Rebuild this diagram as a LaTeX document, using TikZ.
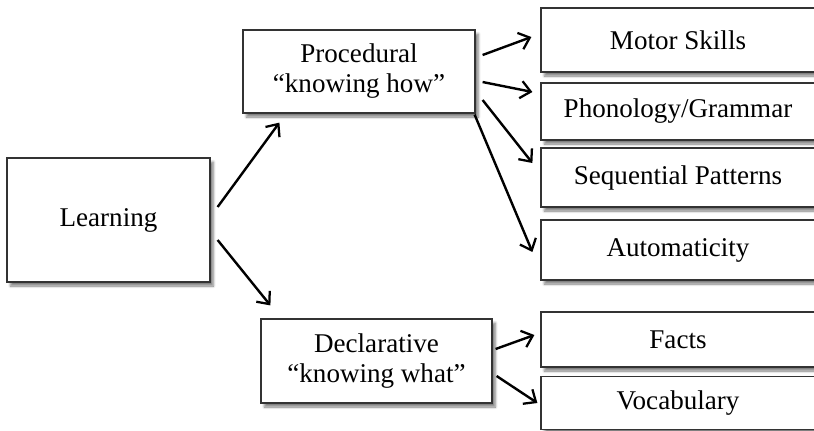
\documentclass[tikz,border=0pt]{standalone}
\usepackage{fontspec}
\setmainfont{Liberation Serif}
\usepackage{tikz}
\usetikzlibrary{calc,arrows.meta,shadows.blur}

\begin{document}
\begin{tikzpicture}[
x=0.75pt,
y=-0.75pt,
box/.style={
  draw=black!80,
  fill=white,
  line width=0.9pt,
  rectangle,
  inner sep=0pt,
  align=center,
  font=\fontsize{20.3}{22.5}\selectfont,
  blur shadow={shadow xshift=2.5pt, shadow yshift=-3pt, shadow blur steps=6, shadow opacity=50}
  },
kind/.style={
  box,
  minimum width=205.5pt
  },
arr/.style={
  line width=1.8pt,
  -{Straight Barb[length=7.5pt,width=13pt,line width=1.7pt]}
  }
]
\useasboundingbox (0,0) rectangle (814,430);

\node[box, minimum width=152.25pt, minimum height=93pt] (learn) at (108.5,220) {Learning};
\node[box, minimum width=174pt, minimum height=62.25pt] (proc) at (359,71.5) {Procedural\\“knowing how”};
\node[box, minimum width=173.25pt, minimum height=63pt] (decl) at (376.5,361) {Declarative\\“knowing what”};

\node[kind, minimum height=48pt] (motor) at (678,40) {Motor Skills};
\node[kind, minimum height=42.75pt] (phon) at (678,111.5) {Phonology/Grammar};
\node[kind, minimum height=44.25pt] (seq) at (678,177.5) {Sequential Patterns};
\node[kind, minimum height=45pt] (auto) at (678,250) {Automaticity};
\node[kind, minimum height=41.25pt] (facts) at (678,339.5) {Facts};
\node[kind, minimum height=40pt] (vocab) at (678,403) {Vocabulary};

\draw[arr] ($(learn.east)+(7,-13)$) -- ($(proc.south west)+(37,9)$);
\draw[arr] ($(learn.east)+(7,20)$) -- ($(decl.north west)+(10,-13)$);

\draw[arr] ($(proc.east)+(7,-16.5)$) -- ($(motor.west)+(-9,-3)$);
\draw[arr] ($(proc.east)+(7,10.5)$) -- ($(phon.west)+(-8,-19.5)$);
\draw[arr] ($(proc.east)+(7,28.5)$) -- ($(seq.west)+(-8,-14.5)$);
\draw[arr] ($(proc.south east)+(-1,1)$) -- ($(auto.west)+(-8,2)$);

\draw[arr] ($(decl.east)+(3,-12)$) -- ($(facts.west)+(-6,-4.5)$);
\draw[arr] ($(decl.east)+(4,15)$) -- ($(vocab.west)+(-3,0)$);
\end{tikzpicture}
\end{document}
